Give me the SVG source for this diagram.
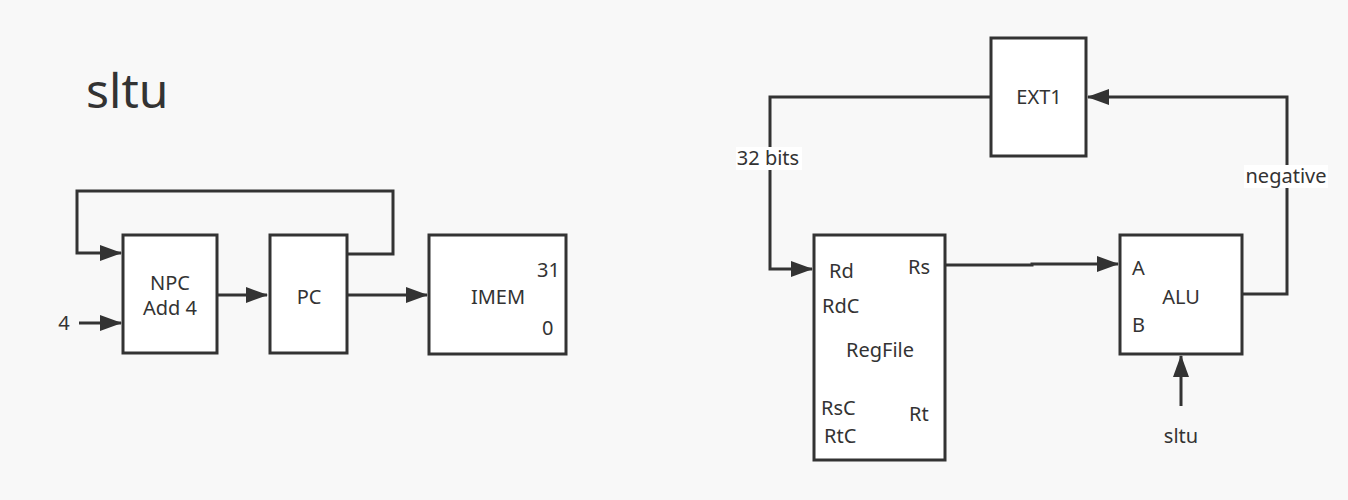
<svg xmlns="http://www.w3.org/2000/svg" width="1348" height="500" viewBox="0 0 1348 500">
<style>
.box{fill:#fff;stroke:#333;stroke-width:3}
.ln{fill:none;stroke:#333;stroke-width:3}
text{font-family:"Noto Sans","Liberation Sans",sans-serif;font-size:20px;fill:#333}
.c{text-anchor:middle}
.lbl{fill:#fff}
</style>
<defs>
<marker id="ah" markerUnits="userSpaceOnUse" markerWidth="22" markerHeight="16" refX="21" refY="8" orient="auto">
<path d="M0,0 L22,8 L0,16 z" fill="#333"/>
</marker>
</defs>
<rect width="1348" height="500" fill="#f8f8f8"/>
<text x="86" y="108" style="font-size:48px">sltu</text>
<g id="connectors">
<path class="ln" d="M348,254 H393 V191 H77 V253 H121" marker-end="url(#ah)"/>
<path class="ln" d="M79,323 H121" marker-end="url(#ah)"/>
<path class="ln" d="M218,295 H267" marker-end="url(#ah)"/>
<path class="ln" d="M348,295 H427" marker-end="url(#ah)"/>
<path class="ln" d="M990,97 H770 V269 H812" marker-end="url(#ah)"/>
<path class="ln" d="M946,265 H1032 V264 H1118" marker-end="url(#ah)"/>
<path class="ln" d="M1243,294 H1287 V97 H1088" marker-end="url(#ah)"/>
<path class="ln" d="M1181,406 V356" marker-end="url(#ah)"/>
<rect class="lbl" x="736" y="147" width="66" height="23"/>
<text class="c" x="768" y="165">32 bits</text>
<rect class="lbl" x="1244" y="165" width="84" height="23"/>
<text class="c" x="1286" y="183">negative</text>
<text class="c" x="1181" y="443">sltu</text>
<text class="c" x="64" y="330">4</text>
</g>
<g id="npc">
<rect class="box" x="123" y="235" width="94" height="118"/>
<text class="c" x="170" y="290">NPC</text>
<text class="c" x="170" y="315">Add 4</text>
</g>
<g id="pc">
<rect class="box" x="270" y="235" width="77" height="118"/>
<text class="c" x="309" y="304">PC</text>
</g>
<g id="imem">
<rect class="box" x="429" y="235" width="137" height="119"/>
<text class="c" x="498" y="304">IMEM</text>
<text x="537" y="277">31</text>
<text x="542" y="335">0</text>
</g>
<g id="ext1">
<rect class="box" x="991" y="38" width="95" height="118"/>
<text class="c" x="1039" y="104">EXT1</text>
</g>
<g id="regfile">
<rect class="box" x="814" y="235" width="131" height="225"/>
<text x="829" y="278">Rd</text>
<text x="908" y="274">Rs</text>
<text x="822" y="313">RdC</text>
<text class="c" x="880" y="357">RegFile</text>
<text x="821" y="415">RsC</text>
<text x="909" y="421">Rt</text>
<text x="824" y="443">RtC</text>
</g>
<g id="alu">
<rect class="box" x="1120" y="235" width="122" height="119"/>
<text x="1132" y="275">A</text>
<text class="c" x="1181" y="304">ALU</text>
<text x="1132" y="332">B</text>
</g>
</svg>
